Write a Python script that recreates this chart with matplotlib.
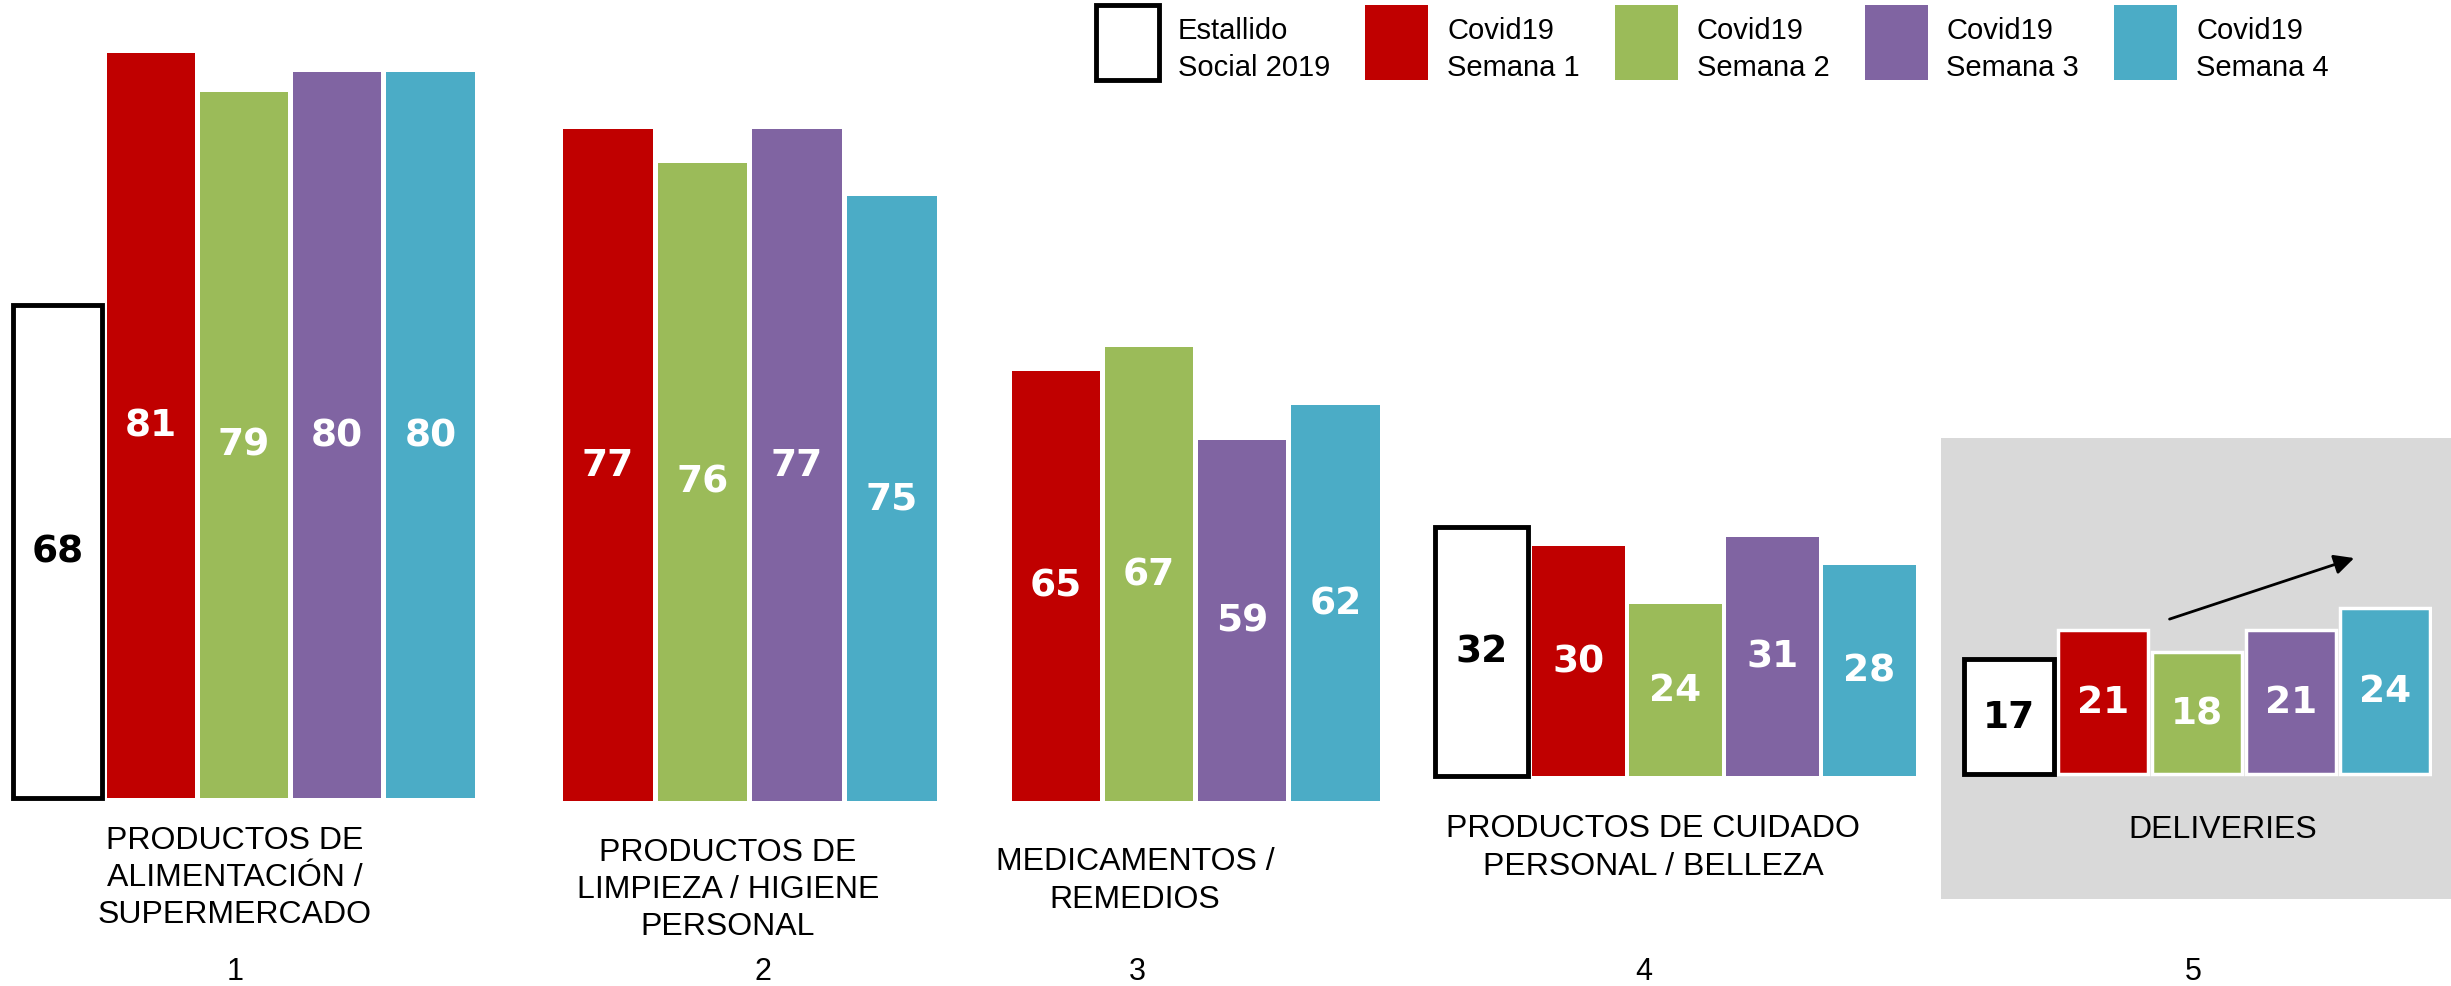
import numpy as np
import matplotlib.pyplot as plt
from matplotlib.patches import Patch, Rectangle
from matplotlib.transforms import blended_transform_factory, Affine2D

plt.rcParams["font.family"] = "Liberation Sans"

W, H = 2451, 987

SERIES = ['Estallido\nSocial 2019', 'Covid19\nSemana 1', 'Covid19\nSemana 2',
          'Covid19\nSemana 3', 'Covid19\nSemana 4']
COLORS = ['white', '#C00000', '#9BBB59', '#8064A2', '#4BACC6']

CATEGORIES = ['PRODUCTOS DE\nALIMENTACIÓN /\nSUPERMERCADO',
              'PRODUCTOS DE\nLIMPIEZA / HIGIENE\nPERSONAL',
              'MEDICAMENTOS /\nREMEDIOS',
              'PRODUCTOS DE CUIDADO\nPERSONAL / BELLEZA',
              'DELIVERIES']
NUMBERS = ['1', '2', '3', '4', '5']

estallido = [68, None, None, 32, 17]
semana1 = [81, 77, 65, 30, 21]
semana2 = [79, 76, 67, 24, 18]
semana3 = [80, 77, 59, 31, 21]
semana4 = [80, 75, 62, 28, 24]

# each group is its own little panel with its own (non-zero) baseline:
# x0, x1, bottom in pixels, pixels per unit, baseline value
PANELS = [
    (11, 477, 799, 19.4, 42.6),
    (466, 939, 802, 33.6, 57.0),
    (916, 1382, 802, 11.65, 28.05),
    (1433, 1918, 777, 9.63, 6.13),
    (1962, 2432, 775, 7.3, 1.3),
]
LABEL_X = [1.9, 2.27, 1.85, 1.77, 2.27]
LABEL_Y = [878, 890, 881, 848, 830]
NUM_X = [1.9, 2.64, 1.88, 1.67, 1.96]
NUM_Y = 972

fig = plt.figure(figsize=(W / 100, H / 100), dpi=100)

# grey highlight behind deliveries
fig.patches.append(Rectangle((1941 / W, 1 - 900 / H), (W - 1941) / W, 461 / H,
                             transform=fig.transFigure, facecolor='#D9D9D9',
                             edgecolor='none', zorder=-10))

series = [estallido, semana1, semana2, semana3, semana4]
pad = 12

for g, (x0, x1, ybot, k, v0) in enumerate(PANELS):
    ax = fig.add_axes([x0 / W, 1 - (ybot + pad) / H, (x1 - x0) / W, (ybot + pad) / H])
    ax.set_xlim(-0.5, 4.5)
    ax.set_ylim(v0 - pad / k, v0 + ybot / k)
    ax.axis('off')

    for j, s in enumerate(series):
        v = s[g]
        if v is None:
            continue
        if j == 0:
            ax.bar(j, v - v0, bottom=v0, width=0.95, color='white',
                   edgecolor='black', linewidth=3.5, zorder=3)
            tc = 'black'
        else:
            ec = 'white' if g == 4 else 'none'
            ax.bar(j, v - v0, bottom=v0, width=0.95, color=COLORS[j],
                   edgecolor=ec, linewidth=2.5, zorder=2)
            tc = 'white'
        ax.text(j, (v + v0) / 2, str(v), ha='center', va='center', color=tc,
                fontsize=27, fontweight='bold', family='DejaVu Sans', zorder=4)

    tr = blended_transform_factory(ax.transData, fig.transFigure)
    ax.text(LABEL_X[g], 1 - LABEL_Y[g] / H, CATEGORIES[g], transform=tr,
            ha='center', va='center', fontsize=23, linespacing=1.32)
    ax.text(NUM_X[g], 1 - NUM_Y / H, NUMBERS[g], transform=tr,
            ha='center', va='center', fontsize=22)

    if g == 4:
        ax.annotate('', xy=(3.7, 31.0), xytext=(1.68, 22.4),
                    arrowprops=dict(arrowstyle='-|>', color='black', lw=2,
                                    mutation_scale=30))

handles = [Patch(facecolor=COLORS[0], edgecolor='black', linewidth=3.5)]
handles += [Patch(facecolor=c, edgecolor='none') for c in COLORS[1:]]
leg = fig.legend(handles=handles, labels=SERIES, loc='upper left',
                 bbox_to_anchor=(1096 / W, 1 - 6 / H), ncol=5, frameon=False,
                 fontsize=21, handlelength=2.16, handleheight=3.58,
                 handletextpad=0.65, columnspacing=1.2, borderpad=0,
                 borderaxespad=0)
for t in leg.get_texts():
    t.set_linespacing(1.4)
    t.set_transform(t.get_transform() + Affine2D().translate(0, -9))

fig.savefig('out.png', dpi=100)
